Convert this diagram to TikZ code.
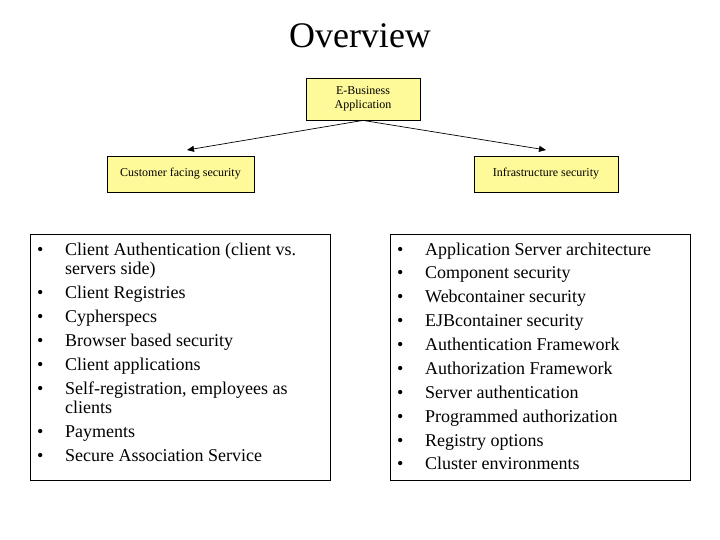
\documentclass[tikz,border=0pt]{standalone}
\usepackage{fontspec}
\setmainfont{Liberation Serif}
\usetikzlibrary{arrows.meta}
\begin{document}
\begin{tikzpicture}[x=1pt,y=-1pt,
  ybox/.style={draw=black,line width=0.8pt,fill=yellow!40,inner sep=0pt,align=center,font=\fontsize{12}{14}\selectfont},
  listbox/.style={draw=black,line width=0.8pt,fill=white,inner sep=0pt},
  bul/.style={anchor=base west,inner sep=0pt,font=\fontsize{18}{20}\selectfont},
  itm/.style={anchor=base west,inner sep=0pt,font=\fontsize{18}{19}\selectfont},
  conn/.style={line width=0.7pt,-{Triangle[length=7pt,width=6pt]}}]
\useasboundingbox (0,0) rectangle (720,540);
\node[font=\fontsize{36}{40}\selectfont,inner sep=0pt] (title) at (360,36) {Overview};
\node[ybox,minimum width=114pt,minimum height=42pt] (top) at (363,99) {E-Business\\Application};
\node[ybox,minimum width=147pt,minimum height=36pt] (cust) at (180.5,174) {Customer facing security};
\node[ybox,minimum width=144pt,minimum height=36pt] (infra) at (546,174) {Infrastructure security};
\coordinate (lt) at (187,150);
\coordinate (rt) at (546,150);
\draw[conn] (top.south) -- (lt);
\draw[conn] (top.south) -- (rt);
\node[listbox,minimum width=300pt,minimum height=246pt] (lbox) at (180,357) {};
\node[listbox,minimum width=300pt,minimum height=246pt] (rbox) at (540,357) {};
% left list
\foreach \y/\t [count=\i] in {255/{\parbox[t]{260pt}{\fontsize{18}{19}\selectfont Client Authentication (client vs.\\servers side)}},
  298/Client Registries, 322/Cypherspecs, 346/Browser based security, 370/Client applications,
  394/{\parbox[t]{260pt}{\fontsize{18}{19}\selectfont Self-registration, employees as\\clients}},
  437/Payments, 461/Secure Association Service}{
  \node[bul] (lb\i) at (37,\y) {•};
  \node[itm] (li\i) at (65,\y) {\t};
}
% right list
\foreach \y/\t [count=\i] in {255/Application Server architecture, 278/Component security,
  302/Webcontainer security, 326/EJBcontainer security, 350/Authentication Framework,
  374/Authorization Framework, 398/Server authentication, 422/Programmed authorization,
  446/Registry options, 469/Cluster environments}{
  \node[bul] (rb\i) at (397,\y) {•};
  \node[itm] (ri\i) at (425,\y) {\t};
}
\end{tikzpicture}
\end{document}
